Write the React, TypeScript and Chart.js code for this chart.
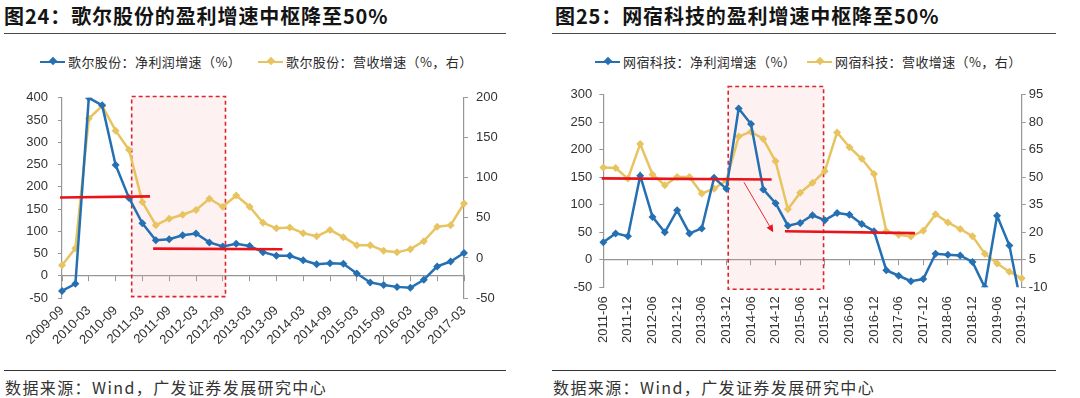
import React, { useEffect, useRef } from "react";
import { Chart, registerables } from "chart.js";

Chart.register(...registerables);

// ---------- Data: 歌尔股份 ----------
const goertekLabels = [
  "2009-09", "2009-12", "2010-03", "2010-06", "2010-09", "2010-12",
  "2011-03", "2011-06", "2011-09", "2011-12", "2012-03", "2012-06",
  "2012-09", "2012-12", "2013-03", "2013-06", "2013-09", "2013-12",
  "2014-03", "2014-06", "2014-09", "2014-12", "2015-03", "2015-06",
  "2015-09", "2015-12", "2016-03", "2016-06", "2016-09", "2016-12",
  "2017-03",
];
const goertekProfit = [
  -34, -18, 400, 383, 249, 175, 118, 80, 82, 91, 95, 75, 66, 72, 67, 53,
  45, 45, 35, 26, 28, 27, 5, -15, -21, -25, -27, -9, 21, 32, 51,
];
const goertekRevenue = [
  -9, 12, 174, 190, 159, 135, 70, 41, 49, 54, 60, 74, 64, 78, 64, 44,
  37, 38, 31, 27, 35, 26, 16, 16, 9, 7, 11, 21, 39, 41, 68,
];
const goertekLeftTicks = { min: -50, max: 400, step: 50 };
const goertekRightTicks = { min: -50, max: 200, step: 50 };

// ---------- Data: 网宿科技 ----------
const wangsuLabels = [
  "2011-06", "2011-09", "2011-12", "2012-03", "2012-06", "2012-09",
  "2012-12", "2013-03", "2013-06", "2013-09", "2013-12", "2014-03",
  "2014-06", "2014-09", "2014-12", "2015-03", "2015-06", "2015-09",
  "2015-12", "2016-03", "2016-06", "2016-09", "2016-12", "2017-03",
  "2017-06", "2017-09", "2017-12", "2018-03", "2018-06", "2018-09",
  "2018-12", "2019-03", "2019-06", "2019-09", "2019-12",
];
const wangsuProfit = [
  32, 48, 43, 153, 78, 50, 90, 48, 57, 149, 129, 275, 247, 128, 103, 62,
  67, 81, 72, 85, 82, 65, 52, -19, -29, -39, -35, 11, 9, 8, -4, -50, 80,
  26, -87,
];
const wangsuRevenue = [
  55.4, 55.1, 49.3, 68.2, 51.5, 45.7, 50.2, 50.2, 41.2, 43.8, 48.3, 72.2,
  74.9, 70.9, 58.7, 32.6, 41.6, 47.0, 53.3, 74.5, 66.4, 60.1, 51.8, 20.6,
  18.6, 17.7, 20.9, 29.9, 25.4, 21.8, 17.9, 8.3, 3.0, -1.5, -5.1,
];
const wangsuLeftTicks = { min: -50, max: 300, step: 50 };
const wangsuRightTicks = { min: -10, max: 95, step: 15 };

// ---------- Annotations (data units: category index / left-axis value) ----------
const goertekShade = { x0: 5.2, x1: 12.2, y0: -47, y1: 403 };
const goertekRedLines = [
  { x0: -0.15, y0: 176, x1: 6.57, y1: 178.5 },
  { x0: 6.8, y0: 61, x1: 16.45, y1: 59.5 },
];
const goertekArrows: { x0: number; y0: number; x1: number; y1: number }[] = [];

const wangsuShade = { x0: 10.15, x1: 17.9, y0: -53.5, y1: 315 };
const wangsuRedLines = [
  { x0: -0.13, y0: 148, x1: 13.68, y1: 146 },
  { x0: 14.76, y0: 52, x1: 25.33, y1: 48.5 },
];
const wangsuArrows = [{ x0: 11.43, y0: 141, x1: 13.81, y1: 50 }];

// ---------- Styles ----------
const BLUE = "#2470B2";
const YELLOW = "#E7C460";
const RED = "#E8141B";
const AXIS = "#969696";
const TICK_TEXT = "#333333";
const TICK_FONT = { family: "'Liberation Sans', Arial, sans-serif", size: 13 };
const CJK = "'Noto Sans CJK SC', 'Noto Sans', sans-serif";

type Seg = { x0: number; y0: number; x1: number; y1: number };

function makeAnnotPlugin(shade: Seg, lines: Seg[], arrows: Seg[]) {
  return {
    id: "annot",
    beforeDatasetsDraw(chart: any) {
      const { ctx, scales } = chart;
      const xs = scales.x;
      const ys = scales.y;
      const l = xs.getPixelForValue(shade.x0);
      const r = xs.getPixelForValue(shade.x1);
      const t = ys.getPixelForValue(shade.y1);
      const b = ys.getPixelForValue(shade.y0);
      ctx.save();
      ctx.fillStyle = "rgba(245, 170, 175, 0.16)";
      ctx.fillRect(l, t, r - l, b - t);
      ctx.strokeStyle = "#D9252B";
      ctx.lineWidth = 1.6;
      ctx.setLineDash([4, 3]);
      ctx.strokeRect(l, t, r - l, b - t);
      ctx.restore();
    },
    afterDatasetsDraw(chart: any) {
      const { ctx, scales } = chart;
      const xs = scales.x;
      const ys = scales.y;
      ctx.save();
      ctx.strokeStyle = RED;
      ctx.lineWidth = 2.6;
      ctx.lineCap = "butt";
      for (const s of lines) {
        ctx.beginPath();
        ctx.moveTo(xs.getPixelForValue(s.x0), ys.getPixelForValue(s.y0));
        ctx.lineTo(xs.getPixelForValue(s.x1), ys.getPixelForValue(s.y1));
        ctx.stroke();
      }
      for (const a of arrows) {
        const px0 = xs.getPixelForValue(a.x0);
        const py0 = ys.getPixelForValue(a.y0);
        const px1 = xs.getPixelForValue(a.x1);
        const py1 = ys.getPixelForValue(a.y1);
        const ang = Math.atan2(py1 - py0, px1 - px0);
        const head = 8;
        ctx.lineWidth = 0.9;
        ctx.beginPath();
        ctx.moveTo(px0, py0);
        ctx.lineTo(px1 - Math.cos(ang) * head * 0.8, py1 - Math.sin(ang) * head * 0.8);
        ctx.stroke();
        ctx.fillStyle = RED;
        ctx.beginPath();
        ctx.moveTo(px1, py1);
        ctx.lineTo(
          px1 - head * Math.cos(ang - 0.45),
          py1 - head * Math.sin(ang - 0.45)
        );
        ctx.lineTo(
          px1 - head * Math.cos(ang + 0.45),
          py1 - head * Math.sin(ang + 0.45)
        );
        ctx.closePath();
        ctx.fill();
      }
      ctx.restore();
    },
  };
}

type PanelSpec = {
  labels: string[];
  profit: number[];
  revenue: number[];
  profitName: string;
  revenueName: string;
  left: { min: number; max: number; step: number };
  right: { min: number; max: number; step: number };
  rotation: number;
  xPad: number;
  width: number;
  height: number;
  padTop: number;
  yWidth: number;
  y1Width: number;
  xHeight: number;
  yPad: number;
  y1Pad: number;
  shade: Seg;
  lines: Seg[];
  arrows: Seg[];
};

function ChartCanvas({ spec }: { spec: PanelSpec }) {
  const ref = useRef<HTMLCanvasElement | null>(null);
  useEffect(() => {
    if (!ref.current) return;
    const lineDs = (label: string, data: number[], color: string, axis: string) => ({
      label,
      data,
      yAxisID: axis,
      borderColor: color,
      backgroundColor: color,
      borderWidth: 2.5,
      pointStyle: "rectRot",
      pointRadius: 4,
      pointBorderWidth: 0,
      pointBackgroundColor: color,
      tension: 0,
    });
    const chart = new Chart(ref.current, {
      type: "line",
      data: {
        labels: spec.labels,
        datasets: [
          lineDs(spec.profitName, spec.profit, BLUE, "y"),
          lineDs(spec.revenueName, spec.revenue, YELLOW, "y1"),
        ] as any,
      },
      options: {
        responsive: false,
        animation: false,
        layout: { padding: { top: spec.padTop, left: 0, right: 0, bottom: 0 } },
        plugins: {
          legend: { display: false },
          tooltip: { enabled: false },
        },
        scales: {
          x: {
            type: "category",
            offset: false,
            border: { display: false },
            grid: { display: false, drawTicks: false },
            ticks: {
              autoSkip: false,
              maxRotation: spec.rotation,
              minRotation: spec.rotation,
              padding: spec.xPad,
              color: TICK_TEXT,
              font: TICK_FONT,
              callback: (_v: any, i: number) => (i % 2 === 0 ? spec.labels[i] : ""),
            },
            afterFit: (s: any) => {
              s.height = spec.xHeight;
            },
          },
          x2: {
            type: "category",
            position: { y: 0 },
            offset: false,
            border: { display: true, color: AXIS, width: 1.2 },
            grid: {
              display: true,
              drawOnChartArea: false,
              drawTicks: true,
              tickLength: 5,
              tickColor: (c: any) => (c.index % 2 === 0 ? AXIS : "rgba(0,0,0,0)"),
            },
            ticks: { display: false, autoSkip: false },
          },
          y: {
            position: "left",
            min: spec.left.min,
            max: spec.left.max,
            border: { display: true, color: AXIS, width: 1.2 },
            grid: { drawOnChartArea: false, drawTicks: true, tickLength: 4, tickColor: AXIS },
            ticks: {
              stepSize: spec.left.step,
              padding: spec.yPad,
              color: TICK_TEXT,
              font: TICK_FONT,
            },
            afterFit: (s: any) => {
              s.width = spec.yWidth;
            },
          },
          y1: {
            position: "right",
            min: spec.right.min,
            max: spec.right.max,
            border: { display: true, color: AXIS, width: 1.2 },
            grid: { drawOnChartArea: false, drawTicks: true, tickLength: 4, tickColor: AXIS },
            ticks: {
              stepSize: spec.right.step,
              padding: spec.y1Pad,
              color: TICK_TEXT,
              font: TICK_FONT,
            },
            afterFit: (s: any) => {
              s.width = spec.y1Width;
            },
          },
        },
      } as any,
      plugins: [makeAnnotPlugin(spec.shade, spec.lines, spec.arrows)],
    });
    return () => chart.destroy();
  }, [spec]);
  return <canvas ref={ref} width={spec.width} height={spec.height} style={{ display: "block" }} />;
}

function LegendItem({ x, color, text }: { x: number; color: string; text: string }) {
  return (
    <div
      style={{
        position: "absolute",
        left: x,
        top: 55,
        height: 14,
        display: "flex",
        alignItems: "center",
        whiteSpace: "nowrap",
      }}
    >
      <span style={{ position: "relative", width: 25, height: 2.5, background: color, display: "inline-block" }}>
        <span
          style={{
            position: "absolute",
            left: 9.5,
            top: -2.5,
            width: 6,
            height: 6,
            background: color,
            transform: "rotate(45deg)",
          }}
        />
      </span>
      <span
        style={{
          marginLeft: 3,
          fontFamily: CJK,
          fontSize: 13,
          lineHeight: "14px",
          letterSpacing: 0.4,
          color: "#2a2a2a",
        }}
      >
        {text}
      </span>
    </div>
  );
}

type PanelProps = {
  x: number;
  w: number;
  title: string;
  ruleLeft: number;
  ruleWidth: number;
  titleLeft: number;
  legendX: [number, number];
  spec: PanelSpec;
};

function Panel({ x, w, title, ruleLeft, ruleWidth, titleLeft, legendX, spec }: PanelProps) {
  return (
    <div style={{ position: "absolute", left: x, top: 0, width: w, height: 398 }}>
      <div
        style={{
          position: "absolute",
          left: titleLeft,
          top: 6,
          fontFamily: CJK,
          fontWeight: 700,
          fontSize: 20,
          lineHeight: "20px",
          letterSpacing: 0.9,
          color: "#141414",
          whiteSpace: "nowrap",
        }}
      >
        {title}
      </div>
      <div style={{ position: "absolute", left: ruleLeft, top: 32.5, width: ruleWidth, height: 1.5, background: "#4a4a4a" }} />
      <LegendItem x={legendX[0]} color={BLUE} text={spec.profitName} />
      <LegendItem x={legendX[1]} color={YELLOW} text={spec.revenueName} />
      <div style={{ position: "absolute", left: 0, top: 80 }}>
        <ChartCanvas spec={spec} />
      </div>
      <div style={{ position: "absolute", left: ruleLeft, top: 369.5, width: ruleWidth, height: 1, background: "#333" }} />
      <div
        style={{
          position: "absolute",
          left: ruleLeft + 1,
          top: 379,
          fontFamily: CJK,
          fontSize: 16,
          lineHeight: "16px",
          letterSpacing: 1.4,
          color: "#333",
          whiteSpace: "nowrap",
        }}
      >
        数据来源：Wind，广发证券发展研究中心
      </div>
    </div>
  );
}

const goertekSpec: PanelSpec = {
  labels: goertekLabels,
  profit: goertekProfit,
  revenue: goertekRevenue,
  profitName: "歌尔股份：净利润增速（%）",
  revenueName: "歌尔股份：营收增速（%，右）",
  left: goertekLeftTicks,
  right: goertekRightTicks,
  rotation: 45,
  xPad: 5,
  width: 530,
  height: 290,
  padTop: 12.7,
  yWidth: 62,
  y1Width: 66,
  xHeight: 72,
  yPad: 10,
  y1Pad: 8,
  shade: goertekShade,
  lines: goertekRedLines,
  arrows: goertekArrows,
};

const wangsuSpec: PanelSpec = {
  labels: wangsuLabels,
  profit: wangsuProfit,
  revenue: wangsuRevenue,
  profitName: "网宿科技：净利润增速（%）",
  revenueName: "网宿科技：营收增速（%，右）",
  left: wangsuLeftTicks,
  right: wangsuRightTicks,
  rotation: 90,
  xPad: 9,
  width: 540,
  height: 290,
  padTop: 12.7,
  yWidth: 63.3,
  y1Width: 58.3,
  xHeight: 82.7,
  yPad: 7,
  y1Pad: 3,
  shade: wangsuShade,
  lines: wangsuRedLines,
  arrows: wangsuArrows,
};

export default function App() {
  return (
    <div style={{ position: "absolute", left: 0, top: 0, width: 1080, height: 398, background: "#fff", overflow: "hidden" }}>
      <Panel
        x={0}
        w={530}
        title="图24：歌尔股份的盈利增速中枢降至50%"
        titleLeft={4}
        ruleLeft={4}
        ruleWidth={502}
        legendX={[40, 258]}
        spec={goertekSpec}
      />
      <Panel
        x={540}
        w={540}
        title="图25：网宿科技的盈利增速中枢降至50%"
        titleLeft={15}
        ruleLeft={12}
        ruleWidth={504}
        legendX={[55, 267]}
        spec={wangsuSpec}
      />
    </div>
  );
}
